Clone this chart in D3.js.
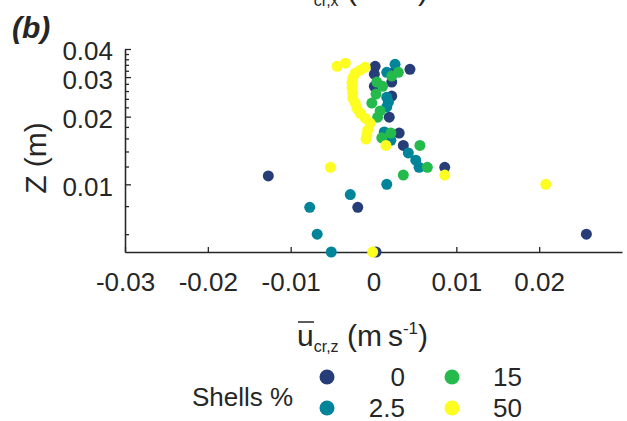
<!DOCTYPE html>
<html>
<meta charset="utf-8">
<head>
	<script src="https://d3js.org/d3.v7.min.js"></script>
	<style>
		body { margin: 0; background: #fff; }
		svg text { font-family: "Liberation Sans", Arial, Helvetica, sans-serif; fill: #262626; }
		.axis path, .axis line { stroke: #262626; stroke-width: 1.3px; }
		.axis text { font-size: 26px; }
	</style>
</head>
<body>
<script>
	// Shells % groups, drawn in this order
	var groups = ["0", "2.5", "15", "50"];
	var colors = ["#263d78", "#00849a", "#24bb4c", "#fdfd22"];

	// [u_cr,z (m/s), Z (m)] for each shells %
	var shells0 = [[0.0002,0.0335],[0.0044,0.0325],[0.0001,0.0309],[0.0022,0.0312],[0.0022,0.0285],[0.0001,0.0273],
		[0.0022,0.0247],[0.0019,0.0199],[0.0031,0.0169],[0.0036,0.0149],[0.0086,0.0119],[-0.0127,0.0109],
		[-0.0019,0.0079],[0.0257,0.0060],[0.0003,0.0050]];
	var shells2_5 = [[0.0026,0.0342],[0.0016,0.0315],[0.0016,0.0244],[0.0018,0.0232],[0.0016,0.0221],[0.0013,0.0171],
		[0.0021,0.0157],[0.0042,0.0138],[0.0051,0.0128],[0.0055,0.0119],[0.0016,0.0100],[-0.0028,0.0090],
		[-0.0077,0.0079],[-0.0068,0.0060],[-0.0051,0.0050]];
	var shells15 = [[0.0030,0.0315],[0.0022,0.0303],[0.0004,0.0285],[0.0011,0.0273],[0.0003,0.0252],[-0.0002,0.0230],
		[0.0008,0.0212],[0.0005,0.0199],[0.0021,0.0169],[0.0010,0.0161],[0.0056,0.0149],[0.0065,0.0119],[0.0036,0.0110]];
	var shells50 = [[-0.0044,0.0335],[-0.0034,0.0346],[-0.0010,0.0332],[-0.0016,0.0322],[-0.0022,0.0312],[-0.0025,0.0297],
		[-0.0026,0.0282],[-0.0026,0.0268],[-0.0025,0.0254],[-0.0025,0.0242],[-0.0022,0.0230],[-0.0020,0.0218],
		[-0.0016,0.0207],[-0.0010,0.0197],[-0.0004,0.0187],[-0.0007,0.0174],[-0.0008,0.0166],[-0.0009,0.0159],
		[0.0015,0.0149],[-0.0052,0.0119],[0.0086,0.0110],[0.0208,0.0100],[-0.0001,0.0050]];
	var series = [shells0, shells2_5, shells15, shells50];

	var xTicks = [-0.03, -0.02, -0.01, 0, 0.01, 0.02];
	var yMajorTicks = [0.01, 0.02, 0.03, 0.04];
	var yMinorTicks = [0.006, 0.008, 0.012, 0.014, 0.016, 0.018, 0.022, 0.024, 0.026, 0.028,
		0.032, 0.034, 0.036, 0.038];

	var width = 627, height = 421;

	var svg = d3.select("body").append("svg")
		.attr("width", width)
		.attr("height", height);

	var x = d3.scaleLinear().domain([-0.03, 0.03]).range([125, 622]);
	var y = d3.scaleLog().domain([0.005, 0.04]).range([252, 49]);

	// axes, ticks point inward
	svg.append("g")
		.attr("class", "axis")
		.attr("transform", "translate(0,252)")
		.call(d3.axisBottom(x).tickValues(xTicks).tickFormat(function(d){ return String(d); })
			.tickSize(-5).tickSizeOuter(0).tickPadding(21));

	svg.append("g")
		.attr("class", "axis")
		.attr("transform", "translate(125,0)")
		.call(d3.axisLeft(y).tickValues(yMinorTicks).tickFormat("").tickSize(-4).tickSizeOuter(0));

	var yAx = svg.append("g")
		.attr("class", "axis")
		.attr("transform", "translate(125,0)")
		.call(d3.axisLeft(y).tickValues(yMajorTicks).tickFormat(function(d){ return String(d); })
			.tickSize(-6).tickSizeOuter(0).tickPadding(12));
	yAx.selectAll("text").attr("dy", "0.42em");
	svg.selectAll(".axis .domain").attr("fill", "none");

	// points
	series.forEach(function(pts, i){
		svg.append("g").selectAll("circle")
			.data(pts).enter()
			.append("circle")
			.attr("cx", function(d){ return x(d[0]); })
			.attr("cy", function(d){ return y(d[1]); })
			.attr("r", 5.5)
			.attr("fill", colors[i]);
	});

	// panel letter
	svg.append("text")
		.attr("x", 12).attr("y", 38)
		.style("font-size", "30px").style("font-weight", "bold").style("font-style", "italic")
		.text("(b)");

	// axis labels (top one belongs to the panel above, cut by the edge)
	function uLabel(yBase, sub) {
		var t = svg.append("text").attr("x", 297).attr("y", yBase).style("font-size", "30px");
		t.append("tspan").text("u");
		t.append("tspan").attr("dy", 6).style("font-size", "16px").text(sub);
		t.append("tspan").attr("dy", -6).text(" (m\u2009s");
		t.append("tspan").attr("dy", -12).style("font-size", "17px").text("-1");
		t.append("tspan").attr("dy", 12).text(")");
		svg.append("line")
			.attr("x1", 298).attr("x2", 314)
			.attr("y1", yBase - 24).attr("y2", yBase - 24)
			.attr("stroke", "#262626").attr("stroke-width", 1.5);
	}
	uLabel(0, "cr,x");
	uLabel(346, "cr,z");

	svg.append("text")
		.attr("transform", "translate(46,158) rotate(-90)")
		.attr("text-anchor", "middle")
		.style("font-size", "30px")
		.text("Z (m)");

	// legend
	svg.append("text")
		.attr("x", 192).attr("y", 406)
		.style("font-size", "26px")
		.text("Shells %");

	var legCols = [327, 327, 452, 452];
	var legRows = [377, 408, 377, 408];
	var legText = [405, 405, 522, 522];
	groups.forEach(function(g, i){
		svg.append("circle")
			.attr("cx", legCols[i]).attr("cy", legRows[i])
			.attr("r", 7.5).attr("fill", colors[i]);
		svg.append("text")
			.attr("x", legText[i]).attr("y", legRows[i] + 9)
			.attr("text-anchor", "end")
			.style("font-size", "26px")
			.text(g);
	});
</script>
</body>
</html>
